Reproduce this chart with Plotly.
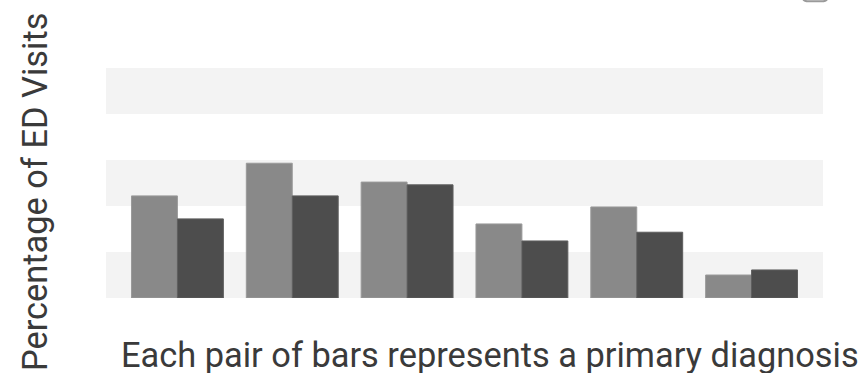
import plotly.graph_objects as go

categories = ["Dx 1", "Dx 2", "Dx 3", "Dx 4", "Dx 5", "Dx 6"]
series_a = [22.2, 29.3, 25.2, 16.1, 19.8, 5.0]
series_b = [17.2, 22.2, 24.6, 12.4, 14.3, 6.1]
y_ticks = [0, 10, 20, 30, 40, 50]

fig = go.Figure()
fig.add_trace(go.Bar(x=categories, y=series_a, name="Group A",
                     marker=dict(color="#898989", line=dict(color="#9a9a9a", width=1))))
fig.add_trace(go.Bar(x=categories, y=series_b, name="Group B",
                     marker=dict(color="#4d4d4d", line=dict(color="#5e5e5e", width=1))))

# alternating bands
for i in range(0, len(y_ticks) - 1, 2):
    fig.add_shape(type="rect", xref="paper", yref="y", x0=0, x1=1,
                  y0=y_ticks[i], y1=y_ticks[i + 1],
                  fillcolor="#f3f3f3", line=dict(width=0), layer="below")

# partially visible legend box at top right
fig.add_shape(type="path", xref="paper", yref="paper",
              path="M 0.972 1.33 L 0.972 1.305 Q 0.972 1.29 0.98 1.29 L 0.998 1.29 Q 1.006 1.29 1.006 1.305 L 1.006 1.33",
              line=dict(color="#9a9a9a", width=2))

fig.add_annotation(text="Each pair of bars represents a primary diagnosis",
                   xref="paper", yref="paper", x=(489.5 - 106) / 717, y=-(355 - 298) / 230,
                   xanchor="center", yanchor="middle", showarrow=False,
                   font=dict(family="Roboto", size=34.4, color="#3a3a3a"))
fig.add_annotation(text="Percentage of ED Visits",
                   xref="paper", yref="paper", x=(34.5 - 106) / 717, y=(298 - 192.5) / 230,
                   xanchor="center", yanchor="middle", showarrow=False, textangle=-90,
                   font=dict(family="Roboto", size=34.4, color="#3a3a3a"))

fig.update_layout(
    width=865, height=373, autosize=False,
    margin=dict(l=106, r=42, t=68, b=75),
    paper_bgcolor="white", plot_bgcolor="white",
    barmode="group", bargap=0.2, bargroupgap=0,
    showlegend=False,
    font=dict(family="Roboto", color="#3a3a3a"),
    xaxis=dict(range=[-0.622, 5.622], showticklabels=False, showgrid=False,
               zeroline=False, showline=False, ticks=""),
    yaxis=dict(range=[0, 50], tickvals=y_ticks, showticklabels=False, showgrid=False,
               zeroline=False, showline=False, ticks=""),
)

fig.write_html("out.html")
